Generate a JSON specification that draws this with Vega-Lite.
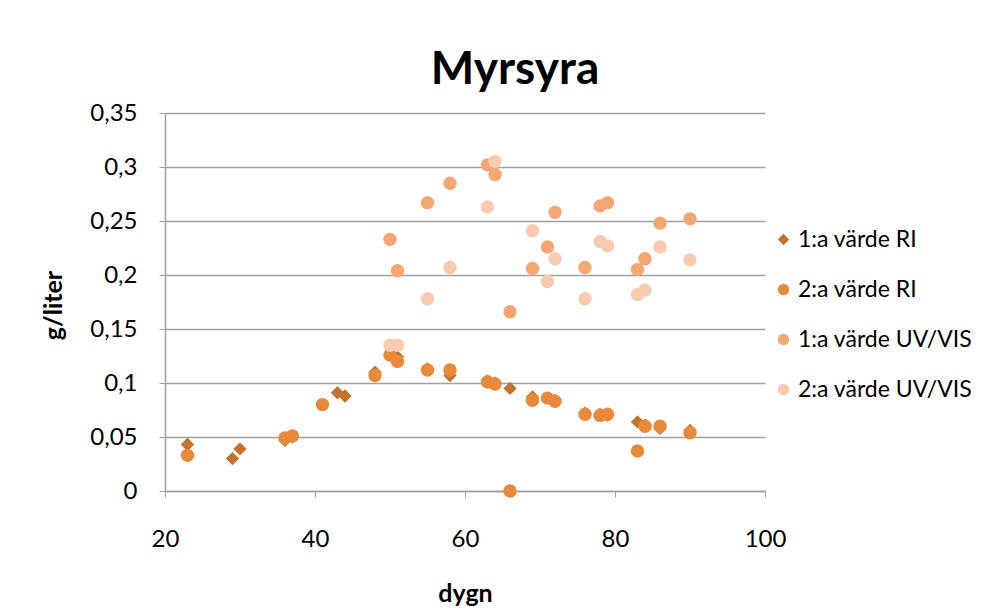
{
  "$schema": "https://vega.github.io/schema/vega-lite/v6.json",
  "width": 600,
  "height": 378,
  "autosize": {"type": "none"},
  "padding": {"left": 165, "top": 113, "right": 242, "bottom": 119},
  "background": "white",
  "title": {
    "text": "Myrsyra",
    "font": "Lato",
    "fontSize": 46,
    "fontWeight": "bold",
    "color": "black",
    "anchor": "middle",
    "frame": "group",
    "dx": 50,
    "offset": 7
  },
  "config": {
    "view": {"stroke": null},
    "font": "Lato"
  },
  "data": {
    "values": [
      {"serie": "1:a värde RI", "dygn": 23, "g": 0.043},
      {"serie": "1:a värde RI", "dygn": 29, "g": 0.030},
      {"serie": "1:a värde RI", "dygn": 30, "g": 0.039},
      {"serie": "1:a värde RI", "dygn": 36, "g": 0.047},
      {"serie": "1:a värde RI", "dygn": 37, "g": 0.050},
      {"serie": "1:a värde RI", "dygn": 43, "g": 0.091},
      {"serie": "1:a värde RI", "dygn": 44, "g": 0.088},
      {"serie": "1:a värde RI", "dygn": 48, "g": 0.110},
      {"serie": "1:a värde RI", "dygn": 50, "g": 0.126},
      {"serie": "1:a värde RI", "dygn": 51, "g": 0.124},
      {"serie": "1:a värde RI", "dygn": 55, "g": 0.113},
      {"serie": "1:a värde RI", "dygn": 58, "g": 0.107},
      {"serie": "1:a värde RI", "dygn": 63, "g": 0.102},
      {"serie": "1:a värde RI", "dygn": 64, "g": 0.100},
      {"serie": "1:a värde RI", "dygn": 66, "g": 0.095},
      {"serie": "1:a värde RI", "dygn": 69, "g": 0.087},
      {"serie": "1:a värde RI", "dygn": 71, "g": 0.086},
      {"serie": "1:a värde RI", "dygn": 72, "g": 0.084},
      {"serie": "1:a värde RI", "dygn": 76, "g": 0.072},
      {"serie": "1:a värde RI", "dygn": 78, "g": 0.071},
      {"serie": "1:a värde RI", "dygn": 79, "g": 0.070},
      {"serie": "1:a värde RI", "dygn": 83, "g": 0.064},
      {"serie": "1:a värde RI", "dygn": 84, "g": 0.061},
      {"serie": "1:a värde RI", "dygn": 86, "g": 0.058},
      {"serie": "1:a värde RI", "dygn": 90, "g": 0.056},
      {"serie": "2:a värde RI", "dygn": 23, "g": 0.033},
      {"serie": "2:a värde RI", "dygn": 36, "g": 0.049},
      {"serie": "2:a värde RI", "dygn": 37, "g": 0.051},
      {"serie": "2:a värde RI", "dygn": 41, "g": 0.080},
      {"serie": "2:a värde RI", "dygn": 48, "g": 0.107},
      {"serie": "2:a värde RI", "dygn": 50, "g": 0.126},
      {"serie": "2:a värde RI", "dygn": 51, "g": 0.120},
      {"serie": "2:a värde RI", "dygn": 55, "g": 0.112},
      {"serie": "2:a värde RI", "dygn": 58, "g": 0.112},
      {"serie": "2:a värde RI", "dygn": 63, "g": 0.101},
      {"serie": "2:a värde RI", "dygn": 64, "g": 0.099},
      {"serie": "2:a värde RI", "dygn": 66, "g": 0.0},
      {"serie": "2:a värde RI", "dygn": 69, "g": 0.084},
      {"serie": "2:a värde RI", "dygn": 71, "g": 0.086},
      {"serie": "2:a värde RI", "dygn": 72, "g": 0.083},
      {"serie": "2:a värde RI", "dygn": 76, "g": 0.071},
      {"serie": "2:a värde RI", "dygn": 78, "g": 0.070},
      {"serie": "2:a värde RI", "dygn": 79, "g": 0.071},
      {"serie": "2:a värde RI", "dygn": 83, "g": 0.037},
      {"serie": "2:a värde RI", "dygn": 84, "g": 0.060},
      {"serie": "2:a värde RI", "dygn": 86, "g": 0.060},
      {"serie": "2:a värde RI", "dygn": 90, "g": 0.054},
      {"serie": "1:a värde UV/VIS", "dygn": 50, "g": 0.233},
      {"serie": "1:a värde UV/VIS", "dygn": 51, "g": 0.204},
      {"serie": "1:a värde UV/VIS", "dygn": 55, "g": 0.267},
      {"serie": "1:a värde UV/VIS", "dygn": 58, "g": 0.285},
      {"serie": "1:a värde UV/VIS", "dygn": 63, "g": 0.302},
      {"serie": "1:a värde UV/VIS", "dygn": 64, "g": 0.293},
      {"serie": "1:a värde UV/VIS", "dygn": 66, "g": 0.166},
      {"serie": "1:a värde UV/VIS", "dygn": 69, "g": 0.206},
      {"serie": "1:a värde UV/VIS", "dygn": 71, "g": 0.226},
      {"serie": "1:a värde UV/VIS", "dygn": 72, "g": 0.258},
      {"serie": "1:a värde UV/VIS", "dygn": 76, "g": 0.207},
      {"serie": "1:a värde UV/VIS", "dygn": 78, "g": 0.264},
      {"serie": "1:a värde UV/VIS", "dygn": 79, "g": 0.267},
      {"serie": "1:a värde UV/VIS", "dygn": 83, "g": 0.205},
      {"serie": "1:a värde UV/VIS", "dygn": 84, "g": 0.215},
      {"serie": "1:a värde UV/VIS", "dygn": 86, "g": 0.248},
      {"serie": "1:a värde UV/VIS", "dygn": 90, "g": 0.252},
      {"serie": "2:a värde UV/VIS", "dygn": 50, "g": 0.135},
      {"serie": "2:a värde UV/VIS", "dygn": 51, "g": 0.135},
      {"serie": "2:a värde UV/VIS", "dygn": 55, "g": 0.178},
      {"serie": "2:a värde UV/VIS", "dygn": 58, "g": 0.207},
      {"serie": "2:a värde UV/VIS", "dygn": 63, "g": 0.263},
      {"serie": "2:a värde UV/VIS", "dygn": 64, "g": 0.305},
      {"serie": "2:a värde UV/VIS", "dygn": 69, "g": 0.241},
      {"serie": "2:a värde UV/VIS", "dygn": 71, "g": 0.194},
      {"serie": "2:a värde UV/VIS", "dygn": 72, "g": 0.215},
      {"serie": "2:a värde UV/VIS", "dygn": 76, "g": 0.178},
      {"serie": "2:a värde UV/VIS", "dygn": 78, "g": 0.231},
      {"serie": "2:a värde UV/VIS", "dygn": 79, "g": 0.227},
      {"serie": "2:a värde UV/VIS", "dygn": 83, "g": 0.182},
      {"serie": "2:a värde UV/VIS", "dygn": 84, "g": 0.186},
      {"serie": "2:a värde UV/VIS", "dygn": 86, "g": 0.226},
      {"serie": "2:a värde UV/VIS", "dygn": 90, "g": 0.214}
    ]
  },
  "mark": {"type": "point", "filled": true, "opacity": 1, "size": 180},
  "encoding": {
    "x": {
      "field": "dygn",
      "type": "quantitative",
      "scale": {"domain": [20, 100], "nice": false, "zero": false},
      "axis": {
        "title": "dygn",
        "values": [20, 40, 60, 80, 100],
        "grid": false,
        "labelFlush": false,
        "domainColor": "#A0A0A0",
        "domainWidth": 1.5,
        "tickColor": "#A0A0A0",
        "tickSize": 6,
        "labelPadding": 30,
        "labelFontSize": 24,
        "labelColor": "black",
        "labelFont": "Lato",
        "titleFont": "Lato",
        "titleFontSize": 25,
        "titleFontWeight": "bold",
        "titleColor": "black",
        "titlePadding": 30
      }
    },
    "y": {
      "field": "g",
      "type": "quantitative",
      "scale": {"domain": [0, 0.35], "nice": false},
      "axis": {
        "title": "g/liter",
        "values": [0, 0.05, 0.1, 0.15, 0.2, 0.25, 0.3, 0.35],
        "labelExpr": "replace(format(datum.value, '~g'), '.', ',')",
        "labelFlush": false,
        "grid": true,
        "gridColor": "#A0A0A0",
        "gridWidth": 1.5,
        "domainColor": "#A0A0A0",
        "domainWidth": 1.5,
        "tickColor": "#A0A0A0",
        "tickSize": 6,
        "labelPadding": 22,
        "labelFontSize": 24,
        "labelColor": "black",
        "labelFont": "Lato",
        "titleFont": "Lato",
        "titleFontSize": 25,
        "titleFontWeight": "bold",
        "titleColor": "black",
        "titleAngle": -90,
        "titleAlign": "center",
        "titleBaseline": "middle",
        "titleX": -112,
        "titleY": 192
      }
    },
    "color": {
      "field": "serie",
      "type": "nominal",
      "scale": {
        "domain": ["1:a värde RI", "2:a värde RI", "1:a värde UV/VIS", "2:a värde UV/VIS"],
        "range": ["#C4732F", "#E8893B", "#F5A672", "#F8CAB0"]
      },
      "legend": {
        "title": null,
        "orient": "none",
        "legendX": 607,
        "legendY": 115,
        "direction": "vertical",
        "labelFontSize": 23,
        "labelFont": "Lato",
        "labelColor": "black",
        "labelLimit": 0,
        "symbolSize": 130,
        "symbolStrokeWidth": 0,
        "rowPadding": 26,
        "labelOffset": 3,
        "padding": 0
      }
    },
    "shape": {
      "field": "serie",
      "type": "nominal",
      "scale": {
        "domain": ["1:a värde RI", "2:a värde RI", "1:a värde UV/VIS", "2:a värde UV/VIS"],
        "range": ["diamond", "circle", "circle", "circle"]
      },
      "legend": null
    }
  }
}
